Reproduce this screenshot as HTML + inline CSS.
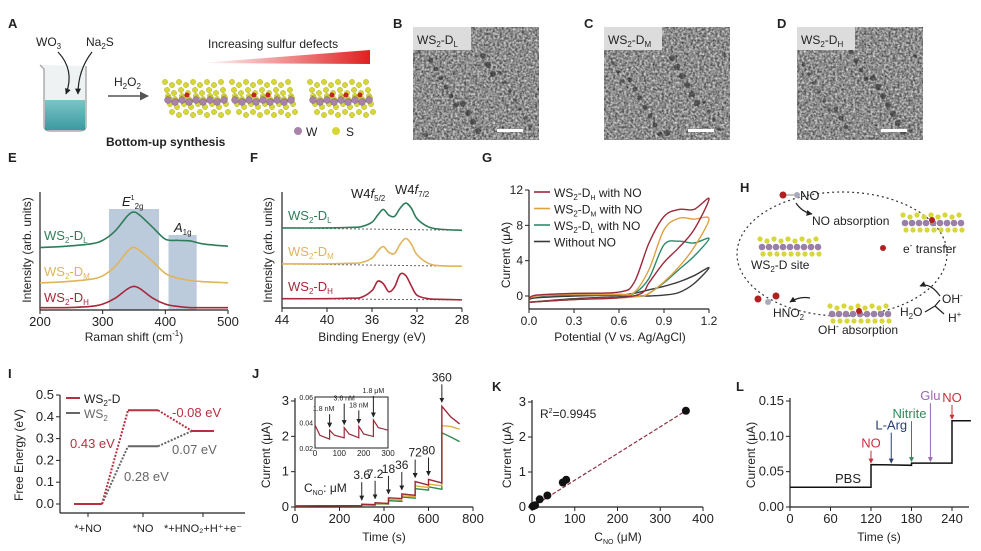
<!DOCTYPE html>
<html><head><meta charset="utf-8"><style>
html,body{margin:0;padding:0;background:#fff;}
svg{display:block;font-family:"Liberation Sans",Arial,sans-serif;}
</style></head><body>
<svg id="fig" width="981" height="551" viewBox="0 0 981 551" xmlns="http://www.w3.org/2000/svg">
<defs>
<filter id="tem" x="0" y="0" width="100%" height="100%" color-interpolation-filters="sRGB">
<feTurbulence type="fractalNoise" baseFrequency="0.45" numOctaves="3" seed="3" result="n"/>
<feColorMatrix in="n" type="matrix" values="0.9 0 0 0 0.1  0.9 0 0 0 0.1  0.9 0 0 0 0.1  0 0 0 0 1"/>
</filter>
<linearGradient id="wedge" x1="0" x2="1"><stop offset="0" stop-color="#fff"/><stop offset="1" stop-color="#e02020"/></linearGradient>
<linearGradient id="water" x1="0" x2="0" y1="0" y2="1"><stop offset="0" stop-color="#7cc4c6"/><stop offset="1" stop-color="#3a9aa0"/></linearGradient>
<marker id="ah" viewBox="0 0 10 10" refX="9" refY="5" markerWidth="5" markerHeight="5" orient="auto"><path d="M0,0L10,5L0,10z" fill="#222"/></marker>
<marker id="ahg" viewBox="0 0 10 10" refX="9" refY="5" markerWidth="6" markerHeight="6" orient="auto"><path d="M0,0L10,5L0,10z" fill="#555"/></marker>
</defs>
<g id="root"></g>
</svg>
<script>
// ---------- DATA ----------
// E: Raman
const ramanX=[200,240,280,300,320,340,350,360,380,400,420,440,460,500];
const ramanDH=[.02,.02,.03,.05,.10,.18,.20,.18,.10,.05,.03,.02,.02,.02];
const ramanDM=[.23,.24,.26,.29,.37,.50,.53,.50,.41,.31,.27,.25,.24,.23];
const ramanDL=[.53,.54,.56,.59,.67,.80,.83,.80,.70,.60,.59,.585,.56,.54];
const ramanTicks=[200,300,400,500];
// F: XPS
const xpsX=[44,40,38,37,36,35.5,35,34.5,34,33.5,33,32.5,32,31,30,28];
const xpsDL=[.69,.69,.695,.70,.74,.80,.85,.80,.79,.86,.905,.86,.77,.70,.68,.67];
const xpsDM=[.38,.38,.385,.39,.43,.49,.53,.48,.47,.55,.60,.55,.46,.385,.365,.36];
const xpsDH=[.08,.08,.085,.09,.15,.23,.21,.14,.18,.29,.28,.19,.11,.08,.075,.07];
const xpsTicks=[44,40,36,32,28];
// G: CV
const cvV=[0,0.05,0.3,0.6,0.7,0.8,0.9,1.0,1.1,1.2];
const cvRev=[1.2,1.1,1.0,0.9,0.8,0.75,0.6,0.3,0];
const cvDHup=[-0.3,0.1,0.3,0.45,1.5,6,9,9.8,9.8,11];
const cvDHdn=[11,7.5,5.5,3.8,1.5,0.3,-0.2,-0.4,-0.7];
const cvDMup=[-0.3,0,0.2,0.2,0.4,3,7.5,8.8,8.7,8.7];
const cvDMdn=[8.7,5.5,3.3,1.6,0.3,0,-0.2,-0.4,-0.7];
const cvDLup=[-0.3,0,0.1,0.1,0.3,2,5.8,6.2,6,6.5];
const cvDLdn=[6.5,4.5,3,1.5,0.3,0,-0.2,-0.4,-0.7];
const cvNoup=[-0.4,-0.2,0,0.1,0.3,0.7,1.1,1.6,2.3,3.2];
const cvNodn=[3.2,1.4,0.4,0.1,0,0,-0.1,-0.3,-0.7];
const cvXTicks=[0.0,0.3,0.6,0.9,1.2];
const cvYTicks=[0,4,8,12];
// I: free energy
const feSteps=["*+NO","*NO","*+HNO₂+H⁺+e⁻"];
const feWS2D=[0,0.43,0.335];
const feWS2=[0,0.265,0.335];
const feYTicks=[0,0.1,0.2,0.3,0.4,0.5];
// J: amperometry
const jT=[0,300,300,360,360,420,420,480,480,540,540,600,600,660,660,700,740];
const jRed=[.03,.04,.08,.07,.12,.10,.26,.24,.37,.33,.72,.62,.78,.68,2.85,2.55,2.35];
const jYel=[.03,.04,.07,.06,.10,.09,.22,.20,.32,.29,.60,.55,.65,.60,2.3,2.28,2.2];
const jGrn=[.03,.04,.06,.05,.09,.08,.18,.16,.28,.25,.52,.48,.57,.50,2.1,1.98,1.85];
const jArrowT=[300,360,420,480,540,600,660];
const jArrowLbl=["3.6","7.2","18","36","72","80","360"];
const jXTicks=[0,200,400,600,800];
const jYTicks=[0,1,2,3];
const inT=[0,20,60,60,80,120,120,140,180,180,200,240,240,260,300];
const inI=[.038,.030,.027,.034,.030,.028,.036,.031,.028,.037,.031,.029,.042,.036,.034];
const inArrowT=[60,120,180,240];
const inArrowLbl=["1.8 nM","3.6 nM","18 nM","1.8 μM"];
const inXTicks=[0,100,200,300];
const inYTicks=[0.02,0.04,0.06];
// K: calibration
const kC=[1.8,3.6,7.2,18,36,72,80,360];
const kI=[0.02,0.03,0.05,0.22,0.33,0.70,0.78,2.75];
const kXTicks=[0,100,200,300,400];
const kYTicks=[0,1,2,3];
// L: selectivity
const lT=[0,120,120,180,180,240,240,268];
const lI=[.028,.028,.06,.059,.062,.062,.122,.122];
const lArrowT=[120,150,180,208,240];
const lArrowLbl=["NO","L-Arg","Nitrite","Glu","NO"];
const lArrowCol=["#c8303a","#2a3f6e","#2f8a5a","#9a6ab0","#c8303a"];
const lXTicks=[0,60,120,180,240];
const lYTicks=[0,0.05,0.10,0.15];

// ---------- HELPERS ----------
const NS="http://www.w3.org/2000/svg";
const root=document.getElementById('root');
function el(tag,attrs,parent,txt){const e=document.createElementNS(NS,tag);for(const k in attrs)e.setAttribute(k,attrs[k]);if(txt!==undefined)e.textContent=txt;(parent||root).appendChild(e);return e;}
function lin(d0,d1,r0,r1){return v=>r0+(v-d0)/(d1-d0)*(r1-r0);}
function smooth(pts){let d="M"+pts[0][0]+","+pts[0][1];for(let i=0;i<pts.length-1;i++){const p0=pts[i-1]||pts[i],p1=pts[i],p2=pts[i+1],p3=pts[i+2]||p2;const c1x=p1[0]+(p2[0]-p0[0])/6,c1y=p1[1]+(p2[1]-p0[1])/6,c2x=p2[0]-(p3[0]-p1[0])/6,c2y=p2[1]-(p3[1]-p1[1])/6;d+=`C${c1x},${c1y} ${c2x},${c2y} ${p2[0]},${p2[1]}`;}return d;}
function poly(pts){return "M"+pts.map(p=>p[0]+","+p[1]).join("L");}
function group(name){const g=el('g',{});return g;}
function txt(g,x,y,s,size,opt){opt=opt||{};const t=el('text',{x:x,y:y,'font-size':size,fill:opt.fill||'#222','text-anchor':opt.anchor||'start','font-weight':opt.bold?'bold':'normal'},g);t.innerHTML=s;if(opt.rot)t.setAttribute('transform',`rotate(${opt.rot} ${x} ${y})`);if(opt.name){}return t;}
function axes(g,x0,x1,y0,y1,xTicks,sx,yTicks,sy,xfmt,yfmt,size){
 el('line',{x1:x0,y1:y0,x2:x1,y2:y0,stroke:'#222','stroke-width':1.2},g);
 el('line',{x1:x0,y1:y0,x2:x0,y2:y1,stroke:'#222','stroke-width':1.2},g);
 xTicks.forEach(v=>{const x=sx(v);el('line',{x1:x,y1:y0,x2:x,y2:y0+4,stroke:'#222'},g);txt(g,x,y0+16,xfmt?xfmt(v):v,size||12,{anchor:'middle'});});
 if(yTicks)yTicks.forEach(v=>{const y=sy(v);el('line',{x1:x0-4,y1:y,x2:x0,y2:y,stroke:'#222'},g);txt(g,x0-6,y+4,yfmt?yfmt(v):v,size||12,{anchor:'end'});});
}
function letter(x,y,s){txt(root,x,y,s,13,{bold:true,name:'panel-label-'+s.toLowerCase()});}

// ---------- A ----------
(function(){const g=group('panel-a-synthesis');letter(8,28,'A');
 el('path',{d:'M40,65 L44,69 L44,126 Q44,131 50,131 L80,131 Q86,131 86,126 L86,66',fill:'#eef2f3',stroke:'#999','stroke-width':1.2},g);
 el('rect',{x:45,y:100,width:40,height:30,fill:'url(#water)'},g);
 txt(g,36,46,'WO<tspan font-size="8" dy="3">3</tspan>',12,{});txt(g,86,46,'Na<tspan font-size="8" dy="3">2</tspan><tspan dy="-3">S</tspan>',12,{});
 el('path',{d:'M58,52 Q75,70 66,94',fill:'none',stroke:'#222','stroke-width':1.2,'marker-end':'url(#ah)'},g);
 el('path',{d:'M92,52 Q78,70 78,94',fill:'none',stroke:'#222','stroke-width':1.2,'marker-end':'url(#ah)'},g);
 txt(g,114,86,'H<tspan font-size="8" dy="3">2</tspan><tspan dy="-3">O</tspan><tspan font-size="8" dy="3">2</tspan>',12,{});
 el('line',{x1:108,y1:96,x2:148,y2:96,stroke:'#555','stroke-width':1.5,'marker-end':'url(#ahg)'},g);
 txt(g,208,48,'Increasing sulfur defects',12,{});
 el('path',{d:'M200,63 L370,50 L370,64 Z',fill:'url(#wedge)'},g);
 [[165,0],[232,1],[310,2]].forEach(([x0,k])=>{for(let r=0;r<3;r++)for(let i=0;i<9;i++){const x=x0+i*7+r*2,y=88+r*8+((i%2)*3);el('circle',{cx:x,cy:y-6,r:2.6,fill:'#d7d73a',stroke:'#a9a915','stroke-width':.5},g);el('circle',{cx:x+3,cy:y+8,r:2.6,fill:'#d7d73a',stroke:'#a9a915','stroke-width':.5},g);}
  for(let i=0;i<9;i++)el('circle',{cx:x0+3+i*7,cy:100+(i%2)*2,r:3.4,fill:'#a883a8',stroke:'#7a5a7a','stroke-width':.5},g);
  for(let j=0;j<=k;j++)el('circle',{cx:x0+22+j*14,cy:95,r:2.5,fill:'#c0281e'},g);});
 el('circle',{cx:298,cy:131,r:4,fill:'#a883a8'},g);txt(g,306,136,'W',12,{});
 el('circle',{cx:336,cy:131,r:4,fill:'#d7d73a'},g);txt(g,346,136,'S',12,{});
 txt(g,106,146,'Bottom-up synthesis',12,{bold:true});
})();
// ---------- B C D ----------
[['B',413,'L'],['C',604,'M'],['D',797,'H']].forEach(([L,x,s],i)=>{const g=group('tem-image-'+L.toLowerCase());letter(x-20,28,L);
 el('rect',{x:x,y:27,width:126,height:113,filter:'url(#tem)'},g);
 for(let k=0;k<22;k++){el('circle',{cx:x+6+((k*37+i*13)%116),cy:52+((k*53+i*29)%84),r:1.8+(k%3)*0.6,fill:'#2a2a2a',opacity:.6},g);}
 el('rect',{x:x,y:27,width:58,height:23,fill:'#dcdcdc'},g);
 txt(g,x+4,44,'WS<tspan font-size="8" dy="3">2</tspan><tspan dy="-3">-D</tspan><tspan font-size="8" dy="3">'+s+'</tspan>',12,{});
 el('rect',{x:x+84,y:129,width:26,height:3,fill:'#fff'},g);
});
// ---------- E ----------
(function(){const g=group('panel-e-raman');letter(8,162,'E');
 const sx=lin(200,500,40,228),sy=lin(0,1,310,192);
 el('rect',{x:sx(310),y:209,width:sx(390)-sx(310),height:101,fill:'#bccbdb'},g);
 el('rect',{x:sx(405),y:235,width:sx(450)-sx(405),height:75,fill:'#bccbdb'},g);
 axes(g,40,228,310,192,ramanTicks,sx,null,null,null,null,13);
 [[ramanDL,'#2e7d5a'],[ramanDM,'#e0b45a'],[ramanDH,'#a8283a']].forEach(([d,c])=>{const p=el('path',{d:smooth(ramanX.map((v,i)=>[sx(v),sy(d[i])])),fill:'none',stroke:c,'stroke-width':1.6},g);});
 txt(g,122,206,'<tspan font-style="italic">E</tspan><tspan font-size="7" dy="-6">1</tspan><tspan font-size="8" dy="9">2g</tspan>',13,{});
 txt(g,174,232,'<tspan font-style="italic">A</tspan><tspan font-size="8" dy="3">1g</tspan>',13,{});
 txt(g,44,240,'WS<tspan font-size="8" dy="3">2</tspan><tspan dy="-3">-D</tspan><tspan font-size="8" dy="3">L</tspan>',13,{fill:'#2e7d5a'});
 txt(g,44,276,'WS<tspan font-size="8" dy="3">2</tspan><tspan dy="-3">-D</tspan><tspan font-size="8" dy="3">M</tspan>',13,{fill:'#e0b45a'});
 txt(g,44,302,'WS<tspan font-size="8" dy="3">2</tspan><tspan dy="-3">-D</tspan><tspan font-size="8" dy="3">H</tspan>',13,{fill:'#a8283a'});
 txt(g,31,250,'Intensity (arb. units)',12,{rot:-90,anchor:'middle'});
 txt(g,134,341,'Raman shift (cm<tspan font-size="8" dy="-5">-1</tspan><tspan dy="5">)</tspan>',12,{anchor:'middle'});
})();
// ---------- F ----------
(function(){const g=group('panel-f-xps');letter(250,162,'F');
 const sx=lin(44,28,282,462),sy=lin(0,1,308,192);
 axes(g,282,462,308,192,xpsTicks,sx,null,null,null,null,13);
 [[xpsDL,'#2e7d5a'],[xpsDM,'#e0b45a'],[xpsDH,'#a8283a']].forEach(([d,c])=>{
  el('path',{d:'M'+sx(44)+','+sy(d[0])+'L'+sx(28)+','+sy(d[15]),stroke:'#666','stroke-dasharray':'2,2',fill:'none'},g);
  const p=el('path',{d:smooth(xpsX.map((v,i)=>[sx(v),sy(d[i])])),fill:'none',stroke:c,'stroke-width':1.6},g);});
 txt(g,351,198,'W4<tspan font-style="italic">f</tspan><tspan font-size="8" dy="3">5/2</tspan>',13,{});
 txt(g,395,194,'W4<tspan font-style="italic">f</tspan><tspan font-size="8" dy="3">7/2</tspan>',13,{});
 txt(g,288,220,'WS<tspan font-size="8" dy="3">2</tspan><tspan dy="-3">-D</tspan><tspan font-size="8" dy="3">L</tspan>',13,{fill:'#2e7d5a'});
 txt(g,288,256,'WS<tspan font-size="8" dy="3">2</tspan><tspan dy="-3">-D</tspan><tspan font-size="8" dy="3">M</tspan>',13,{fill:'#e0b45a'});
 txt(g,288,291,'WS<tspan font-size="8" dy="3">2</tspan><tspan dy="-3">-D</tspan><tspan font-size="8" dy="3">H</tspan>',13,{fill:'#a8283a'});
 txt(g,272,250,'Intensity (arb. units)',12,{rot:-90,anchor:'middle'});
 txt(g,372,341,'Binding Energy (eV)',12,{anchor:'middle'});
})();
// ---------- G ----------
(function(){const g=group('panel-g-cv');letter(482,162,'G');
 const sx=lin(0,1.2,529,709),sy=lin(0,12,296,190);
 axes(g,529,709,309,190,cvXTicks,sx,cvYTicks,sy,v=>v.toFixed(1),null,12);
 [[cvNoup,cvNodn,'#3a3a3a'],[cvDLup,cvDLdn,'#2e8a6a'],[cvDMup,cvDMdn,'#e0a040'],[cvDHup,cvDHdn,'#9a2a3a']].forEach(([u,dn,c])=>{
  const pts=cvV.map((v,i)=>[sx(v),sy(u[i])]).concat(cvRev.slice(1).map((v,i)=>[sx(v),sy(dn[i+1])]));
  const p=el('path',{d:smooth(pts),fill:'none',stroke:c,'stroke-width':1.4},g);});
 const leg=[['#9a2a3a','H',' with NO'],['#e0a040','M',' with NO'],['#2e8a6a','L',' with NO'],['#3a3a3a','','Without NO']];
 leg.forEach(([c,s,t],i)=>{const y=192+i*16.5;el('line',{x1:534,y1:y,x2:550,y2:y,stroke:c,'stroke-width':1.6},g);
  txt(g,554,y+5,s?'WS<tspan font-size="8" dy="3">2</tspan><tspan dy="-3">-D</tspan><tspan font-size="7" dy="3">'+s+'</tspan><tspan dy="-3">'+t+'</tspan>':t,12,{name:'legend-entry'});});
 txt(g,510,255,'Current (μA)',12,{rot:-90,anchor:'middle'});
 txt(g,620,341,'Potential (V vs. Ag/AgCl)',12,{anchor:'middle'});
})();
// ---------- H ----------
(function(){const g=group('panel-h-mechanism');letter(740,192,'H');
 el('ellipse',{cx:842,cy:254,rx:105,ry:62,fill:'none',stroke:'#333','stroke-dasharray':'2,3','stroke-width':1.2},g);
 function slab(x,y){for(let i=0;i<9;i++){el('circle',{cx:x+i*7,cy:y-7+(i%2)*2,r:2.6,fill:'#d7d73a'},g);el('circle',{cx:x+i*7+3,cy:y+8,r:2.6,fill:'#d7d73a'},g);el('circle',{cx:x+i*7+2,cy:y+1,r:3.3,fill:'#9a80a8'},g);}}
 el('rect',{x:757,y:237,width:70,height:28,fill:'#fff'},g);slab(760,246);slab(903,222);slab(830,313);
 el('circle',{cx:883,cy:248,r:3,fill:'#b02020'},g);el('circle',{cx:932,cy:220,r:3,fill:'#b02020'},g);el('circle',{cx:859,cy:311,r:3,fill:'#b02020'},g);
 el('circle',{cx:783,cy:195,r:3.5,fill:'#b02020'},g);el('line',{x1:786,y1:195,x2:794,y2:195,stroke:'#888'},g);el('circle',{cx:797,cy:195,r:3,fill:'#aab'},g);
 txt(g,800,200,'NO',13,{});txt(g,812,225,'NO absorption',12,{});txt(g,903,253,'e<tspan font-size="8" dy="-5">-</tspan><tspan dy="5"> transfer</tspan>',12,{});
 txt(g,751,269,'WS<tspan font-size="8" dy="3">2</tspan><tspan dy="-3">-D site</tspan>',12,{});
 txt(g,773,317,'HNO<tspan font-size="8" dy="3">2</tspan>',12,{});
 el('circle',{cx:758,cy:299,r:3.5,fill:'#b02020'},g);el('circle',{cx:768,cy:302,r:3,fill:'#aab'},g);el('circle',{cx:776,cy:296,r:3.5,fill:'#b02020'},g);
 txt(g,818,334,'OH<tspan font-size="8" dy="-5">-</tspan><tspan dy="5"> absorption</tspan>',12,{});
 txt(g,942,303,'OH<tspan font-size="8" dy="-5">-</tspan>',12,{});txt(g,900,316,'H<tspan font-size="8" dy="3">2</tspan><tspan dy="-3">O</tspan>',12,{});txt(g,948,322,'H<tspan font-size="8" dy="-5">+</tspan>',12,{});
 el('path',{d:'M796,203 Q802,212 812,214',fill:'none',stroke:'#222','stroke-width':1.2,'marker-end':'url(#ah)'},g);
 el('path',{d:'M940,296 Q930,282 920,286',fill:'none',stroke:'#222','stroke-width':1.2,'marker-end':'url(#ah)'},g);
 el('path',{d:'M925,312 L935,306 M935,306 L940,300 M935,306 L944,314',fill:'none',stroke:'#222','stroke-width':1.2},g);
 el('path',{d:'M810,298 Q800,296 790,302',fill:'none',stroke:'#222','stroke-width':1.2,'marker-end':'url(#ah)'},g);
})();
// ---------- I ----------
(function(){const g=group('panel-i-free-energy');letter(8,378,'I');
 const sy=lin(0,0.5,504,395);const xs=[88,143,203],hw=[14,15,11];
 axes(g,60,245,513,395,[],null,feYTicks,sy,null,v=>v.toFixed(1),13);
 xs.forEach((x,i)=>{el('line',{x1:x,y1:513,x2:x,y2:517,stroke:'#222'},g);txt(g,x,532,feSteps[i],11,{anchor:'middle'});});
 [[feWS2,'#666'],[feWS2D,'#b83040']].forEach(([d,c])=>{d.forEach((v,i)=>{const l=el('line',{x1:xs[i]-hw[i],y1:sy(v),x2:xs[i]+hw[i],y2:sy(v),stroke:c,'stroke-width':2},g);
  if(i<d.length-1)el('line',{x1:xs[i]+hw[i],y1:sy(v),x2:xs[i+1]-hw[i+1],y2:sy(d[i+1]),stroke:c,'stroke-width':2,'stroke-dasharray':'2,1.5'},g);});});
 el('line',{x1:66,y1:398,x2:80,y2:398,stroke:'#b83040','stroke-width':2},g);txt(g,84,403,'WS<tspan font-size="8" dy="3">2</tspan><tspan dy="-3">-D</tspan>',12,{});
 el('line',{x1:66,y1:413,x2:80,y2:413,stroke:'#666','stroke-width':2},g);txt(g,84,418,'WS<tspan font-size="8" dy="3">2</tspan>',12,{fill:'#666'});
 txt(g,70,448,'0.43 eV',13,{fill:'#b83040'});txt(g,124,481,'0.28 eV',13,{fill:'#666'});
 txt(g,172,417,'-0.08 eV',13,{fill:'#b83040'});txt(g,172,454,'0.07 eV',13,{fill:'#666'});
 txt(g,23,455,'Free Energy (eV)',12,{rot:-90,anchor:'middle'});
})();
// ---------- J ----------
(function(){const g=group('panel-j-amperometry');letter(252,378,'J');
 const sx=lin(0,800,295,473),sy=lin(0,3,507,401);
 axes(g,295,473,507,398,jXTicks,sx,jYTicks,sy,null,null,13);
 [[jGrn,'#2e8a4a'],[jYel,'#e0b040'],[jRed,'#9a2a3a']].forEach(([d,c])=>{const p=el('path',{d:poly(jT.map((t,i)=>[sx(t),sy(d[i])])),fill:'none',stroke:c,'stroke-width':1.4},g);});
 jArrowT.forEach((t,i)=>{const x=sx(t),yTop=sy(jRed[jT.indexOf(t)+1]);const a=el('line',{x1:x,y1:yTop-22,x2:x,y2:yTop-4,stroke:'#222','stroke-width':1,'marker-end':'url(#ah)'},g);txt(g,x,yTop-25,jArrowLbl[i],12,{anchor:'middle'});});
 txt(g,304,492,'C<tspan font-size="7" dy="3">NO</tspan><tspan dy="-3">: μM</tspan>',12,{});
 txt(g,270,455,'Current (μA)',12,{rot:-90,anchor:'middle'});txt(g,384,541,'Time (s)',12,{anchor:'middle'});
 // inset
 const ix=lin(0,300,315,388),iy=lin(0.02,0.06,448,397);
 el('rect',{x:315,y:397,width:73,height:51,fill:'#fff',stroke:'#222'},g);
 inXTicks.forEach(v=>{txt(g,ix(v),456,v,8,{anchor:'middle'});});
 inYTicks.forEach(v=>{txt(g,313,iy(v)+3,v.toFixed(2),7,{anchor:'end'});});
 const ip=el('path',{d:poly(inT.map((t,i)=>[ix(t),iy(inI[i])])),fill:'none',stroke:'#9a2a3a','stroke-width':1.2},g);
 inArrowT.forEach((t,i)=>{const x=ix(t),y=iy(inI[inT.indexOf(t)+1]);el('line',{x1:x,y1:y-16+(i%2?-8:0),x2:x,y2:y-3,stroke:'#222','marker-end':'url(#ah)'},g);txt(g,x+(i==0?-6:0),y-19+(i%2?-8:0),inArrowLbl[i],7,{anchor:'middle'});});
})();
// ---------- K ----------
(function(){const g=group('panel-k-calibration');letter(492,391,'K');
 const sx=lin(0,400,532,703),sy=lin(0,3,507,402);
 axes(g,532,703,507,400,kXTicks,sx,kYTicks,sy,null,null,13);
 el('line',{x1:sx(0),y1:sy(0),x2:sx(360),y2:sy(2.75),stroke:'#8a3040','stroke-width':1.2,'stroke-dasharray':'4,2'},g);
 kC.forEach((c,i)=>{const p=el('circle',{cx:sx(c),cy:sy(kI[i]),r:4,fill:'#111'},g);});
 txt(g,540,418,'R<tspan font-size="7" dy="-5">2</tspan><tspan dy="5">=0.9945</tspan>',12,{});
 txt(g,511,455,'Current (μA)',12,{rot:-90,anchor:'middle'});
 txt(g,618,541,'C<tspan font-size="7" dy="3">NO</tspan><tspan dy="-3"> (μM)</tspan>',12,{anchor:'middle'});
})();
// ---------- L ----------
(function(){const g=group('panel-l-selectivity');letter(736,391,'L');
 const sx=lin(0,240,790,952),sy=lin(0,0.15,507,401);
 axes(g,790,969,507,398,lXTicks,sx,lYTicks,sy,null,v=>v.toFixed(2),13);
 const p=el('path',{d:poly(lT.map((t,i)=>[sx(t),sy(lI[i])])),fill:'none',stroke:'#111','stroke-width':1.5},g);
 lArrowT.forEach((t,i)=>{const x=sx(t);let y;for(let k=0;k<lT.length;k++)if(lT[k]<=t)y=sy(lI[k]);if(t==120||t==240)y=sy(lI[lT.lastIndexOf(t)]);
  const h=[12,30,40,58,14][i];el('line',{x1:x,y1:y-h-2,x2:x,y2:y-2,stroke:lArrowCol[i],'stroke-width':1},g);
  el('path',{d:`M${x-2.5},${y-6}L${x+2.5},${y-6}L${x},${y-1}Z`,fill:lArrowCol[i]},g);
  txt(g,x+(i==2?-2:0),y-h-5,lArrowLbl[i],13,{anchor:'middle',fill:lArrowCol[i]});});
 txt(g,848,483,'PBS',13,{anchor:'middle'});
 txt(g,755,455,'Current (μA)',12,{rot:-90,anchor:'middle'});txt(g,879,541,'Time (s)',12,{anchor:'middle'});
})();
</script>
</body></html>
